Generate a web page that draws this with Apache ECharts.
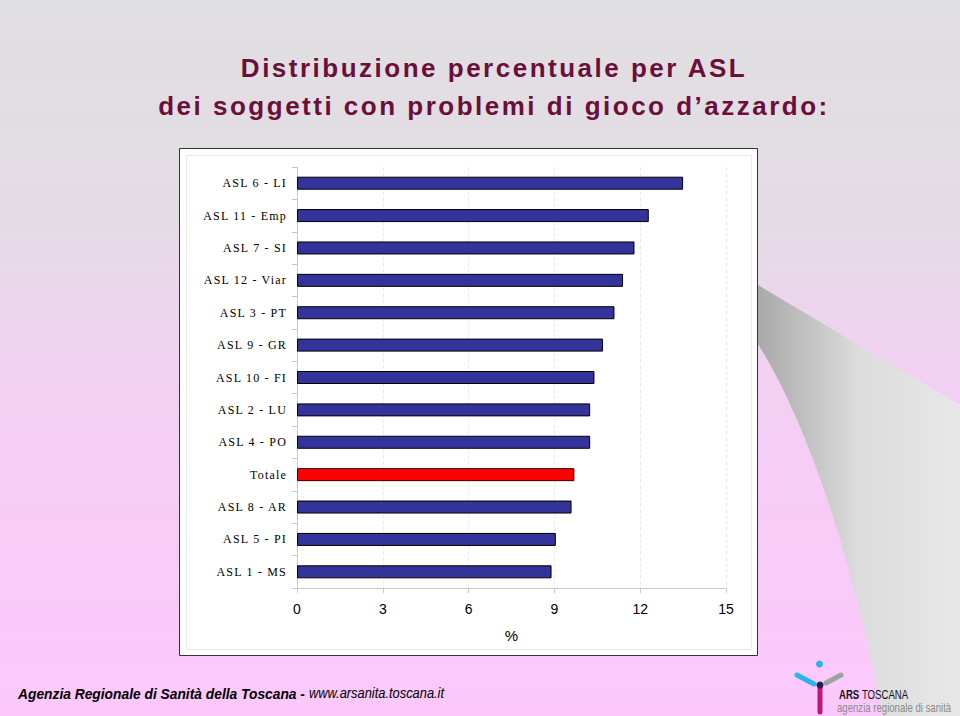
<!DOCTYPE html>
<html>
<head>
<meta charset="utf-8">
<script src="https://cdn.jsdelivr.net/npm/echarts@6/dist/echarts.min.js"></script>
<style>html,body{margin:0;padding:0;}#c{width:960px;height:716px;}</style>
</head>
<body>
<div id="c"></div>
<script>
const categories = ['ASL 6 - LI','ASL 11 - Emp','ASL 7 - SI','ASL 12 - Viar','ASL 3 - PT','ASL 9 - GR','ASL 10 - FI','ASL 2 - LU','ASL 4 - PO','Totale','ASL 8 - AR','ASL 5 - PI','ASL 1 - MS'];
const values = [13.5, 12.3, 11.8, 11.4, 11.1, 10.7, 10.4, 10.25, 10.25, 9.7, 9.6, 9.05, 8.9];
const highlight = 'Totale';
const xTicks = [0, 3, 6, 9, 12, 15];

// decorative swoosh outline (background shape)
function swooshPoints() {
  const pts = [[758, 285], [960, 405], [960, 716], [882, 716]];
  const p0 = [882, 716], p1 = [858, 580], p2 = [812, 430], p3 = [758, 344];
  for (let i = 1; i <= 24; i++) {
    const t = i / 24, u = 1 - t;
    pts.push([
      u*u*u*p0[0] + 3*u*u*t*p1[0] + 3*u*t*t*p2[0] + t*t*t*p3[0],
      u*u*u*p0[1] + 3*u*u*t*p1[1] + 3*u*t*t*p2[1] + t*t*t*p3[1]
    ]);
  }
  return pts;
}

const chart = echarts.init(document.getElementById('c'), null, {renderer: 'svg'});
const option = {
  animation: false,
  title: {
    text: 'Distribuzione percentuale per ASL\ndei soggetti con problemi di gioco d\u2019azzardo:',
    left: 489, top: 44, textAlign: 'center',
    textStyle: {fontFamily: 'Liberation Sans, Arial', fontWeight: 'bold', fontSize: 26, color: '#6b0f3a', lineHeight: 38}
  },
  graphic: [
    {type: 'rect', z: -100, shape: {x: 0, y: 0, width: 960, height: 716}, style: {fill: new echarts.graphic.LinearGradient(0,0,0,1,[
      {offset: 0, color: '#e0dfe1'}, {offset: 0.3, color: '#e4dce5'}, {offset: 0.55, color: '#f3cff3'}, {offset: 1, color: '#fcc8fc'}])}},
    {type: 'polygon', z: -90, shape: {points: swooshPoints()},
      style: {fill: new echarts.graphic.LinearGradient(0,0,1,0,[{offset: 0, color: '#a9a9a9'}, {offset: 0.5, color: '#dcdcdc'}, {offset: 1, color: '#e8e8e8'}])}},
    {type: 'rect', z: -80, shape: {x: 179.5, y: 148.5, width: 578, height: 507}, style: {fill: '#ffffff', stroke: '#333333', lineWidth: 1}},
    {type: 'rect', z: -79, shape: {x: 186.5, y: 155.5, width: 565, height: 494}, style: {fill: 'none', stroke: '#e8e8e8', lineWidth: 1}},
    {type: 'text', z: 10, x: 18, y: 686, scaleX: 0.92, style: {
      text: '{a|Agenzia Regionale di Sanit\u00e0 della Toscana - }{b|www.arsanita.toscana.it}',
      rich: {
        a: {fontFamily: 'Liberation Sans, Arial', fontStyle: 'italic', fontWeight: 'bold', fontSize: 15, fill: '#000'},
        b: {fontFamily: 'Liberation Sans, Arial', fontStyle: 'italic', fontSize: 14, fill: '#000'}
      }}},
    {type: 'line', z: 10, shape: {x1: 797, y1: 675, x2: 814, y2: 684}, style: {stroke: '#2ab4e6', lineWidth: 5, lineCap: 'round'}},
    {type: 'line', z: 10, shape: {x1: 826, y1: 683, x2: 841, y2: 675}, style: {stroke: '#9aa5a0', lineWidth: 5, lineCap: 'round'}},
    {type: 'line', z: 10, shape: {x1: 820, y1: 686, x2: 820, y2: 712}, style: {stroke: '#c0187a', lineWidth: 5, lineCap: 'round'}},
    {type: 'circle', z: 11, shape: {cx: 820, cy: 685, r: 3.5}, style: {fill: '#2a1a5a'}},
    {type: 'circle', z: 10, shape: {cx: 819.5, cy: 664, r: 3.5}, style: {fill: '#2ab4e6'}},
    {type: 'text', z: 10, x: 839, y: 689, scaleX: 0.8, style: {text: '{x|ARS} {y|TOSCANA}', rich: {
      x: {fontFamily: 'Liberation Sans, Arial', fontWeight: 'bold', fontSize: 12, fill: '#111'},
      y: {fontFamily: 'Liberation Sans, Arial', fontSize: 12, fill: '#111'}}}},
    {type: 'text', z: 10, x: 837, y: 702, scaleX: 0.8, style: {text: 'agenzia regionale di sanit\u00e0', fontFamily: 'Liberation Sans, Arial', fontSize: 12, fill: '#8a8a8a'}}
  ],
  grid: {left: 297, right: 234, top: 167, bottom: 128, containLabel: false},
  xAxis: {
    type: 'value', min: xTicks[0], max: xTicks[xTicks.length - 1], interval: 3,
    name: '%', nameLocation: 'middle', nameGap: 40,
    nameTextStyle: {fontFamily: 'Liberation Sans, Arial', fontSize: 15, color: '#000'},
    axisLine: {show: true, lineStyle: {color: '#c8c8c8'}},
    axisTick: {show: true, length: 5, lineStyle: {color: '#c8c8c8'}},
    axisLabel: {fontFamily: 'Liberation Sans, Arial', fontSize: 14, color: '#000', margin: 14},
    splitLine: {show: true, lineStyle: {color: '#ececec', type: 'dashed'}}
  },
  yAxis: {
    type: 'category', data: categories, inverse: true,
    axisLine: {show: true, lineStyle: {color: '#c8c8c8'}},
    axisTick: {show: true, length: 5, lineStyle: {color: '#c8c8c8'}},
    axisLabel: {fontFamily: 'Liberation Serif, Times New Roman', fontSize: 12, color: '#000', margin: 10}
  },
  series: [{
    type: 'bar', barWidth: 13,
    data: values.map((v, i) => ({
      value: v,
      itemStyle: categories[i] === highlight ? {color: '#ff0000', borderColor: '#3a0000', borderWidth: 1} : {color: '#333399', borderColor: '#000000', borderWidth: 1}
    }))
  }]
};
chart.setOption(option);

function applySpacing() {
  document.querySelectorAll('#c svg text').forEach(t => {
    const cs = getComputedStyle(t);
    const fs = parseFloat(cs.fontSize);
    const fam = cs.fontFamily || '';
    if (fs >= 24) t.style.letterSpacing = '2.5px';
    else if (/Serif/i.test(fam)) t.style.letterSpacing = '1.2px';
  });
}
chart.on('finished', applySpacing);
setTimeout(applySpacing, 50);
</script>
</body>
</html>
